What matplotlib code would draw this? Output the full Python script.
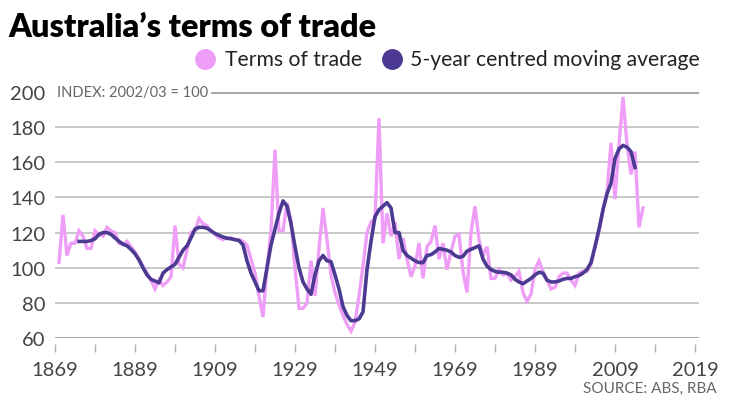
import numpy as np
import matplotlib
matplotlib.use("Agg")
import matplotlib.pyplot as plt
from matplotlib.lines import Line2D

plt.rcParams['font.family'] = ['Lato', 'DejaVu Sans']

# Terms of trade, index 2002/03 = 100
tot_years = list(range(1870, 2017))
tot_values = [
    103, 130, 107, 114, 114, 121, 118, 111, 111, 121,   # 1870s
    119, 118, 123, 121, 120, 114, 113, 115, 112, 109,   # 1880s
    105, 101, 97, 93, 88, 93, 90, 92, 95, 124,          # 1890s
    102, 100, 110, 120, 121, 128, 125, 124, 121, 119,   # 1900s
    117, 116, 117, 117, 116, 116, 115, 113, 105, 97,    # 1910s
    84, 72, 100, 121, 167, 121, 121, 137, 127, 100,     # 1920s
    77, 77, 80, 104, 84, 111, 134, 116, 96, 86,         # 1930s
    79, 73, 68, 64, 69, 84, 101, 120, 126, 128,         # 1940s
    185, 114, 131, 118, 126, 105, 117, 105, 95, 101,    # 1950s
    114, 94, 112, 115, 124, 105, 114, 99, 109, 118,     # 1960s
    119, 98, 86, 120, 135, 116, 107, 112, 94, 94,       # 1970s
    99, 96, 97, 93, 95, 98, 86, 81, 85, 99,             # 1980s
    104, 98, 93, 88, 89, 95, 97, 97, 93, 90,            # 1990s
    97, 98, 98, 102, 112, 120, 133, 143, 171, 139,      # 2000s
    170, 197, 170, 153, 166, 123, 134,                  # 2010s
]

# 5-year centred moving average
ma_years = list(range(1875, 2015))
ma_values = [
    115, 115, 115, 115.5, 116.5,                        # 1875-79
    119, 120, 120, 119, 117, 115, 113.5, 112.5, 110.5, 108,
    104.5, 100, 96, 93.5, 92.5, 91.5, 97, 99, 100.5, 102,
    106, 110, 112.5, 117, 122, 123, 123, 122.5, 121, 119.5,
    118.5, 117.5, 116.8, 116.5, 116, 115.5, 113, 104, 97, 92,
    87, 87, 100, 113, 122, 131, 138, 135, 125, 112,
    100, 92, 88, 85, 96, 104, 107, 104, 103.5, 96,
    88, 78, 73, 70, 70, 71, 75, 99, 115, 129,
    133, 135, 137, 134, 120, 120, 110, 107, 105.5, 104,
    103, 103, 107, 107.5, 109, 111, 110.5, 110, 109, 107,
    106, 106.5, 109.5, 110.5, 111.5, 112.5, 105, 101, 99, 98,
    97.5, 97.5, 97, 96, 93.5, 92, 91, 92.5, 94, 96,
    97.5, 97, 93, 92, 92, 92.5, 93.5, 94, 94, 95,
    95.6, 97, 99, 103, 112, 122, 133, 142, 148, 162,
    167.5, 169.5, 168.5, 166, 157,                      # 2010-14
]

y_ticks = [60, 80, 100, 120, 140, 160, 180, 200]
x_ticks = list(range(1869, 2030, 10))
x_labels = ['1869', '', '1889', '', '1909', '', '1929', '', '1949', '',
            '1969', '', '1989', '', '2009', '', '2019']

PINK = '#ee9ef6'
PURPLE = '#4c3a92'
TXT = '#444444'

W, H = 729, 410
fig = plt.figure(figsize=(W / 100, H / 100), dpi=100)
ax = fig.add_axes([55 / W, 1 - 339.3 / H, (699 - 55) / W, (339.3 - 92.7) / H])

for yv in y_ticks:
    edge = yv in (y_ticks[0], y_ticks[-1])
    ax.axhline(yv, color='#a8a8a8' if edge else '#c4c4c4',
               lw=2.2 if edge else 1.3, zorder=1)

ax.plot(tot_years, tot_values, color=PINK, lw=2.4, zorder=2,
        solid_joinstyle='miter')
ax.plot(ma_years, ma_values, color=PURPLE, lw=2.6, zorder=3,
        solid_joinstyle='round')

ax.set_xlim(1869, 2030)
ax.set_ylim(60, 200)
for s in ax.spines.values():
    s.set_visible(False)
ax.spines['bottom'].set_position(('outward', 4))

ax.set_xticks(x_ticks)
ax.set_xticklabels(x_labels)
ax.set_yticks(y_ticks)
ax.tick_params(axis='x', length=6, width=1, color='#b0b0b0', pad=6,
               labelsize=14.5, labelcolor=TXT)
ax.tick_params(axis='y', length=0, pad=7, labelsize=14.5, labelcolor=TXT)

ax.text(1869.5, 200, 'INDEX: 2002/03 = 100', fontsize=10.5, color='#666666',
        va='center', ha='left', zorder=4,
        bbox=dict(facecolor='white', edgecolor='none', pad=2))

fig.text(8 / W, 1 - 37 / H, 'Australia\u2019s terms of trade', fontsize=23.3,
         fontweight='heavy', color='black', va='baseline', ha='left')

# legend
fig.add_artist(Line2D([205 / W], [1 - 60 / H], marker='o', markersize=14,
                      color=PINK, transform=fig.transFigure, lw=0))
fig.text(225 / W, 1 - 60 / H, 'Terms of trade', fontsize=15.2, color='#222222',
         va='center', ha='left')
fig.add_artist(Line2D([392 / W], [1 - 60 / H], marker='o', markersize=14,
                      color=PURPLE, transform=fig.transFigure, lw=0))
fig.text(410 / W, 1 - 60 / H, '5-year centred moving average', fontsize=15.2,
         color='#222222', va='center', ha='left')

fig.text(717 / W, 1 - 389 / H, 'SOURCE: ABS, RBA', fontsize=11,
         color='#666666', va='center', ha='right')

fig.savefig('out.png', dpi=100)
